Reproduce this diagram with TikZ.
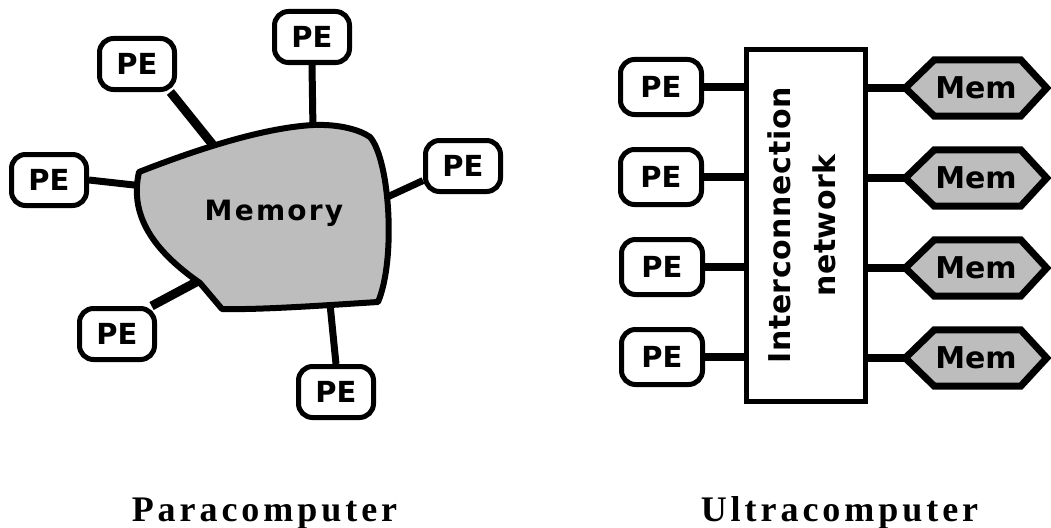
\documentclass[tikz,border=0pt]{standalone}
\usepackage{fontspec}
\setmainfont{Liberation Serif}
\newfontfamily\fpe{DejaVu Sans}
\newfontfamily\fmemory{DejaVu Sans}[LetterSpace=8]
\newfontfamily\fnet{DejaVu Sans}[LetterSpace=2]
\newfontfamily\flab{Liberation Serif}[LetterSpace=11]
\usetikzlibrary{backgrounds,calc}
\definecolor{memgray}{gray}{0.74}
\tikzset{
  pebox/.style={draw, line width=5pt, rounded corners=14pt, minimum width=75pt,
    minimum height=51pt, inner sep=0pt, fill=white,
    font=\fpe\bfseries\fontsize{29}{29}\selectfont},
  pebig/.style={pebox, minimum width=81pt, minimum height=55pt},
  conn/.style={line width=7pt},
  connb/.style={line width=9pt},
  conr/.style={line width=8pt},
  memtxt/.style={minimum width=141pt, minimum height=56pt, inner sep=0pt,
    font=\fpe\bfseries\fontsize{30}{30}\selectfont},
  hexline/.style={draw, line width=7pt, fill=memgray, line join=miter},
  netbox/.style={draw, line width=5pt, minimum width=119pt, minimum height=352pt,
    inner sep=0pt},
  lab/.style={anchor=base, font=\flab\bfseries\fontsize{36}{36}\selectfont}
}
\begin{document}
\begin{tikzpicture}[x=1pt,y=-1pt]
\useasboundingbox (0,0) rectangle (1051,527);
% ---------- Paracomputer ----------
\node[pebox] (peTL) at (137,64) {PE};
\node[pebox] (peT)  at (312,37) {PE};
\node[pebox] (peL)  at (49,180) {PE};
\node[pebox] (peR)  at (463,166) {PE};
\node[pebox] (peBL) at (117,334) {PE};
\node[pebox] (peB)  at (336,392) {PE};
\coordinate (mTL) at (217,150);
\coordinate (mT)  at (313,131);
\coordinate (mL)  at (143,186);
\coordinate (mR)  at (383,199);
\coordinate (mBL) at (202,279);
\coordinate (mB)  at (330,304);
\draw[connb] (peTL.-40) -- (mTL);
\draw[conn]  (peT.south) -- (mT);
\draw[conn]  (peL.east) -- (mL);
\draw[conn]  (peR.200) -- (mR);
\draw[connb] (peBL.39) -- (mBL);
\draw[conn]  (peB.north) -- (mB);
\draw[line width=6pt, fill=memgray, line join=round]
  (139,172) .. controls (190,152) and (260,128) .. (313,125)
  .. controls (340,124) and (360,130) .. (370,137)
  .. controls (390,160) and (396,260) .. (378,302)
  .. controls (330,305) and (260,310) .. (222,309)
  -- (200,283)
  .. controls (160,255) and (128,220) .. (139,172) -- cycle;
\node[font=\fmemory\bfseries\fontsize{28}{28}\selectfont] (memtext) at (274,213) {Memory};
% ---------- Ultracomputer ----------
\node[netbox] (net) at (806,225.5) {};
\node[rotate=90, align=center, font=\fnet\bfseries\fontsize{30}{45}\selectfont]
  (nettext) at ($(net.center)+(-4,0)$) {Interconnection\\network};
\node[pebig] (pr1) at (661,87) {PE};
\node[pebig] (pr2) at (661,177) {PE};
\node[pebig] (pr3) at (662,267) {PE};
\node[pebig] (pr4) at (662,357) {PE};
\node[memtxt] (h1) at (976,88) {Mem};
\node[memtxt] (h2) at (976,178) {Mem};
\node[memtxt] (h3) at (976,268) {Mem};
\node[memtxt] (h4) at (976,358) {Mem};
\begin{scope}[on background layer]
\foreach \i in {1,...,4}{
  \draw[hexline] (h\i.west) -- ($(h\i.north west)+(29,0)$)
    -- ($(h\i.north east)+(-26,0)$) -- (h\i.east)
    -- ($(h\i.south east)+(-26,0)$) -- ($(h\i.south west)+(29,0)$) -- cycle;
}
\end{scope}
\foreach \i in {1,...,4}{
  \draw[conr] (pr\i.east) -- (pr\i.east -| net.west);
  \draw[conr] (h\i.west) -- (h\i.west -| net.east);
}
% ---------- labels ----------
\node[lab] (para) at (264.5,521) {Paracomputer};
\node[lab] (ultra) at (839.5,521) {Ultracomputer};
\end{tikzpicture}
\end{document}
